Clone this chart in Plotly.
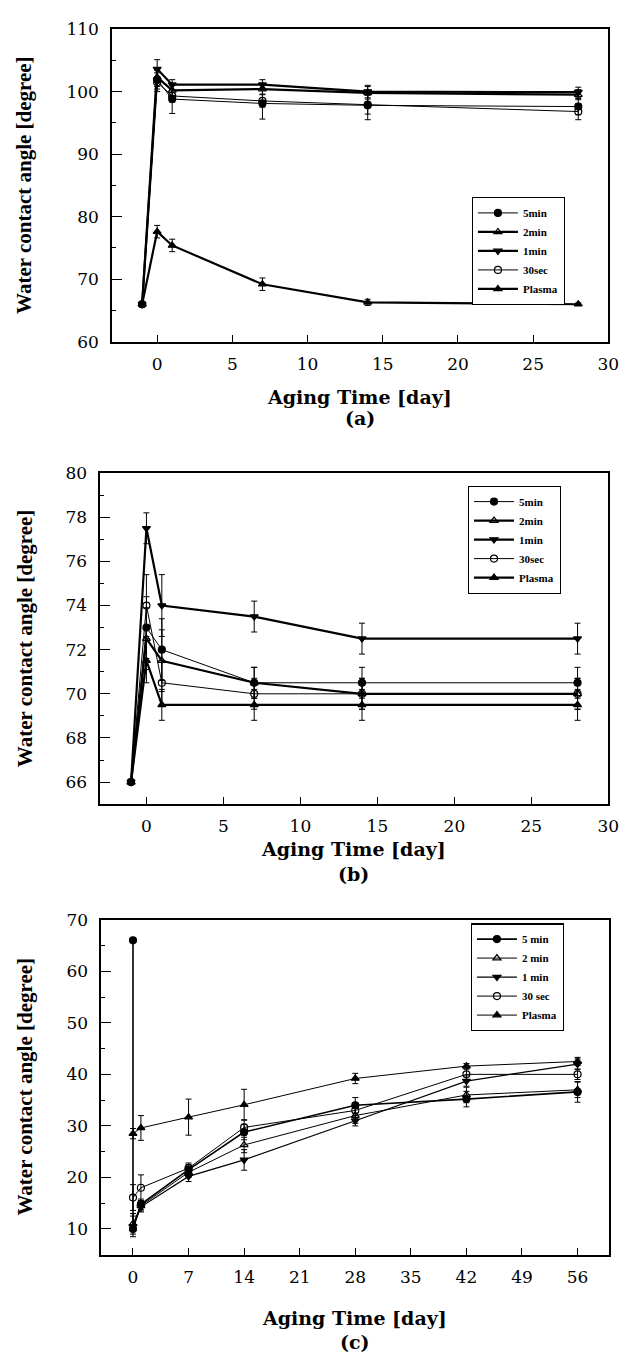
import plotly.graph_objects as go

W, H = 639, 1362

# ---------------- data ----------------
series_names_ab = ["5min", "2min", "1min", "30sec", "Plasma"]
series_names_c = ["5 min", "2 min", "1 min", "30 sec", "Plasma"]

days_a = [-1, 0, 1, 7, 14, 28]
a_5min = [66, 101.9, 98.8, 98.1, 97.8, 97.6]
a_2min = [66, 102.3, 100.2, 100.4, 99.8, 99.5]
a_1min = [66, 103.6, 101.1, 101.1, 100.0, 99.9]
a_30sec = [66, 101.5, 99.3, 98.5, 97.9, 96.8]
a_plasma = [66, 77.6, 75.4, 69.2, 66.3, 66.0]
a_err_5min = [0, 1.5, 2.3, 2.5, 2.3, 1.3]
a_err_2min = [0, 1.5, 0.8, 0.8, 1.0, 0.8]
a_err_1min = [0, 1.5, 0.8, 0.8, 1.0, 0.8]
a_err_30sec = [0, 1.5, 1.0, 1.0, 1.5, 1.3]
a_err_plasma = [0, 1.0, 1.0, 1.0, 0.5, 0.2]

days_b = [-1, 0, 1, 7, 14, 28]
b_5min = [66, 73.0, 72.0, 70.5, 70.5, 70.5]
b_2min = [66, 72.5, 71.5, 70.5, 70.0, 70.0]
b_1min = [66, 77.5, 74.0, 73.5, 72.5, 72.5]
b_30sec = [66, 74.0, 70.5, 70.0, 70.0, 70.0]
b_plasma = [66, 71.5, 69.5, 69.5, 69.5, 69.5]
b_err_5min = [0, 1.4, 1.4, 0.7, 0.7, 0.7]
b_err_2min = [0, 1.4, 1.4, 0.7, 0.7, 0.7]
b_err_1min = [0, 0.7, 1.4, 0.7, 0.7, 0.7]
b_err_30sec = [0, 1.4, 1.0, 0.7, 0.7, 0.7]
b_err_plasma = [0, 1.0, 0.7, 0.7, 0.7, 0.7]

days_c = [0, 1, 7, 14, 28, 42, 56]
days_c_5min = [0, 0, 1, 7, 14, 28, 42, 56]
c_5min = [66, 10, 14.8, 21.5, 28.8, 34.0, 35.2, 36.6]
c_2min = [11.0, 14.5, 21.0, 26.3, 32.0, 36.0, 37.0]
c_1min = [10.5, 14.3, 20.2, 23.4, 31.0, 38.7, 42.0]
c_30sec = [16.1, 18.0, 21.8, 29.7, 33.0, 40.0, 40.0]
c_plasma = [28.5, 29.6, 31.7, 34.1, 39.2, 41.6, 42.5]
c_err_5min = [0, 0, 1.0, 1.0, 1.5, 1.5, 1.5, 2.0]
c_err_2min = [2.0, 1.0, 1.0, 1.5, 1.5, 1.5, 1.5]
c_err_1min = [2.0, 1.0, 1.0, 2.0, 1.0, 1.0, 1.0]
c_err_30sec = [2.5, 2.5, 1.0, 1.5, 1.5, 1.0, 1.0]
c_err_plasma = [1.0, 2.4, 3.5, 3.0, 1.0, 0.5, 0.8]

# ---------------- styles ----------------
symbols = ["circle", "triangle-up-open", "triangle-down", "circle-open", "triangle-up"]
widths_ab = [1.0, 2.2, 2.2, 1.0, 2.2]
widths_c = [1.6, 1.0, 1.2, 1.0, 1.0]

def px(x):
    return x / W

def py(y):
    return 1 - y / H

fig = go.Figure()

panels = [
    dict(ax="", leg="legend", names=series_names_ab, widths=widths_ab,
         xs=[days_a] * 5,
         ys=[a_5min, a_2min, a_1min, a_30sec, a_plasma],
         es=[a_err_5min, a_err_2min, a_err_1min, a_err_30sec, a_err_plasma]),
    dict(ax="2", leg="legend2", names=series_names_ab, widths=widths_ab,
         xs=[days_b] * 5,
         ys=[b_5min, b_2min, b_1min, b_30sec, b_plasma],
         es=[b_err_5min, b_err_2min, b_err_1min, b_err_30sec, b_err_plasma]),
    dict(ax="3", leg="legend3", names=series_names_c, widths=widths_c,
         xs=[days_c_5min, days_c, days_c, days_c, days_c],
         ys=[c_5min, c_2min, c_1min, c_30sec, c_plasma],
         es=[c_err_5min, c_err_2min, c_err_1min, c_err_30sec, c_err_plasma]),
]

for p in panels:
    for i in range(5):
        fig.add_trace(go.Scatter(
            x=p["xs"][i], y=p["ys"][i], name=p["names"][i],
            mode="lines+markers",
            line=dict(color="black", width=p["widths"][i]),
            marker=dict(symbol=symbols[i], size=7, color="black",
                        line=dict(color="black", width=1.2)),
            error_y=dict(type="data", array=p["es"][i], color="black",
                         thickness=1, width=3),
            xaxis="x" + p["ax"], yaxis="y" + p["ax"],
            legend=p["leg"],
        ))

tickfont = dict(family="DejaVu Serif", size=17, color="black")

def xaxis(dom, rng, dtick, tick0, anchor):
    return dict(domain=dom, range=rng, dtick=dtick, tick0=tick0, anchor=anchor,
                showline=True, linecolor="black", linewidth=1.5, mirror=True,
                ticks="inside", ticklen=7, tickwidth=1.2, tickcolor="black",
                showgrid=False, zeroline=False, tickfont=tickfont,
                ticklabelstandoff=6)

def yaxis(dom, rng, dtick, mdtick, anchor):
    return dict(domain=dom, range=rng, dtick=dtick, tick0=0, anchor=anchor,
                showline=True, linecolor="black", linewidth=1.5, mirror=True,
                ticks="inside", ticklen=10, tickwidth=1.2, tickcolor="black",
                minor=dict(dtick=mdtick, ticks="inside", ticklen=4,
                           tickcolor="black", tickwidth=1),
                showgrid=False, zeroline=False, tickfont=tickfont,
                ticklabelstandoff=8)

xa = [px(114), px(619)]
xb = [px(102), px(619)]
xc = [px(103), px(620)]
ya = [py(336.7), py(19.3)]
yb = [py(806), py(470)]
yc = [py(1263.3), py(923.3)]

legfont = dict(family="Liberation Serif", size=11, color="black", weight="bold")

def legend(x, y):
    return dict(x=x, y=y, xanchor="left", yanchor="top", bgcolor="white",
                bordercolor="black", borderwidth=1.2, font=legfont,
                itemwidth=40, tracegroupgap=0, itemclick=False)

fig.update_layout(
    width=W, height=H, autosize=False,
    margin=dict(l=0, r=0, t=0, b=0),
    paper_bgcolor="white", plot_bgcolor="white",
    showlegend=True,
    xaxis=xaxis(xa, [-3, 30], 5, 0, "y"),
    yaxis=yaxis(ya, [60, 110], 10, 5, "x"),
    xaxis2=xaxis(xb, [-3, 30], 5, 0, "y2"),
    yaxis2=yaxis(yb, [65, 80], 2, 1, "x2"),
    xaxis3=xaxis(xc, [-4, 60], 7, 0, "y3"),
    yaxis3=yaxis(yc, [5, 70], 10, 5, "x3"),
    legend=legend(px(480), py(190)),
    legend2=legend(px(476), py(483)),
    legend3=legend(px(479), py(927)),
)

ytitle_font = dict(family="Liberation Serif", size=21, color="black", weight="bold")
xtitle_font = dict(family="DejaVu Serif", size=19, color="black", weight="bold")

annos = []
for (ycen, xt_y, lab_y, lab, xcen) in [
    (178, 393, 414, "(a)", 366),
    (638, 852, 877, "(b)", 360),
    (1093, 1327, 1352, "(c)", 361),
]:
    annos.append(dict(text="Water contact angle [degree]", x=px(25), y=py(ycen),
                      xref="paper", yref="paper", textangle=-90, showarrow=False,
                      font=ytitle_font, xanchor="center", yanchor="middle"))
    annos.append(dict(text="Aging Time [day]", x=px(xcen), y=py(xt_y),
                      xref="paper", yref="paper", showarrow=False,
                      font=xtitle_font, xanchor="center", yanchor="middle"))
    annos.append(dict(text=lab, x=px(xcen), y=py(lab_y),
                      xref="paper", yref="paper", showarrow=False,
                      font=xtitle_font, xanchor="center", yanchor="middle"))
fig.update_layout(annotations=annos)

fig.write_html("out.html")
